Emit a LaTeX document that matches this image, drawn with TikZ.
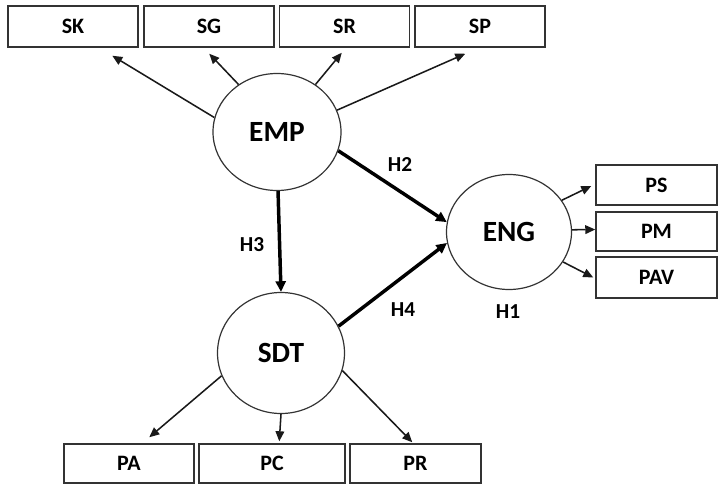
\documentclass[tikz,border=0pt]{standalone}
\usepackage{fontspec}
\setmainfont{Carlito}
\usetikzlibrary{arrows.meta,calc,shapes.geometric}
\tikzset{
  box/.style={draw=black!80, line width=1.1pt, rectangle, minimum width=97.5pt, minimum height=30.75pt, inner sep=0pt, font=\bfseries\fontsize{16.5}{17}\selectfont},
  rbox/.style={box, minimum width=90.75pt, minimum height=30pt},
  latent/.style={draw=black!80, line width=0.9pt, ellipse, inner sep=0pt, font=\bfseries\fontsize{22}{23}\selectfont},
  thin/.style={draw=black!90, line width=1.15pt, -{Triangle[length=7.5pt,width=6.5pt]}},
  thick/.style={draw=black, line width=2.6pt, -{Triangle[length=8pt,width=7.5pt]}},
  hlab/.style={font=\bfseries\fontsize{16}{17}\selectfont, inner sep=0pt}
}
\begin{document}
\begin{tikzpicture}[x=0.75pt,y=-0.75pt]
\useasboundingbox (0,0) rectangle (718,485);
% top boxes
\node[box] (sk) at (73,26.5) {SK};
\node[box] (sg) at (209,26.5) {SG};
\node[box] (sr) at (344.5,26.5) {SR};
\node[box] (sp) at (480,26.5) {SP};
% right boxes
\node[rbox, minimum height=30pt] (ps) at (656.5,185) {PS};
\node[rbox, minimum height=29.25pt] (pm) at (656.5,231.5) {PM};
\node[rbox, minimum height=30.75pt] (pav) at (656.5,277.5) {PAV};
% bottom boxes
\node[box, minimum height=29.25pt] (pa) at (129,463.5) {PA};
\node[box, minimum height=29.25pt, minimum width=109.5pt] (pc) at (272,463.5) {PC};
\node[box, minimum height=29.25pt, minimum width=98.25pt] (pr) at (415.5,463.5) {PR};
% latent variables
\node[latent, minimum width=96pt, minimum height=87.75pt] (emp) at (277,132) {EMP};
\node[latent, minimum width=93.75pt, minimum height=86.25pt] (eng) at (509,232) {ENG};
\node[latent, minimum width=95.25pt, minimum height=90.75pt] (sdt) at (281,353) {SDT};
% EMP indicators
\draw[thin] (emp.167) -- ($(sk.south west)+(105,8)$);
\draw[thin] (emp.129) -- ($(sg.south west)+(66,6)$);
\draw[thin] (emp.51) -- ($(sr.south west)+(63,5)$);
\draw[thin] (emp.20) -- ($(sp.south west)+(51,6)$);
% ENG indicators
\draw[thin] (eng.31) -- ($(ps.west)+(-4,1)$);
\draw[thin] (eng.2) -- ($(pm.west)+(0,-2)$);
\draw[thin] (eng.-29) -- ($(pav.west)+(-2,0)$);
% SDT indicators
\draw[thin] (sdt.201) -- ($(pa.north west)+(86,-6)$);
\draw[thin] (sdt.-90) -- ($(pc.north west)+(81,-2)$);
\draw[thin] (sdt.-16) -- ($(pr.north west)+(63,-1)$);
% structural paths
\draw[thick] (emp.-17) -- (eng.171);
\draw[thick] (emp.-89) -- (sdt.north);
\draw[thick] (sdt.25) -- (eng.190);
% labels
\node[hlab] (h2) at (400,165) {H2};
\node[hlab] (h3) at (252,245) {H3};
\node[hlab] (h4) at (403,310) {H4};
\node[hlab] (h1) at (508,312) {H1};
\end{tikzpicture}
\end{document}
